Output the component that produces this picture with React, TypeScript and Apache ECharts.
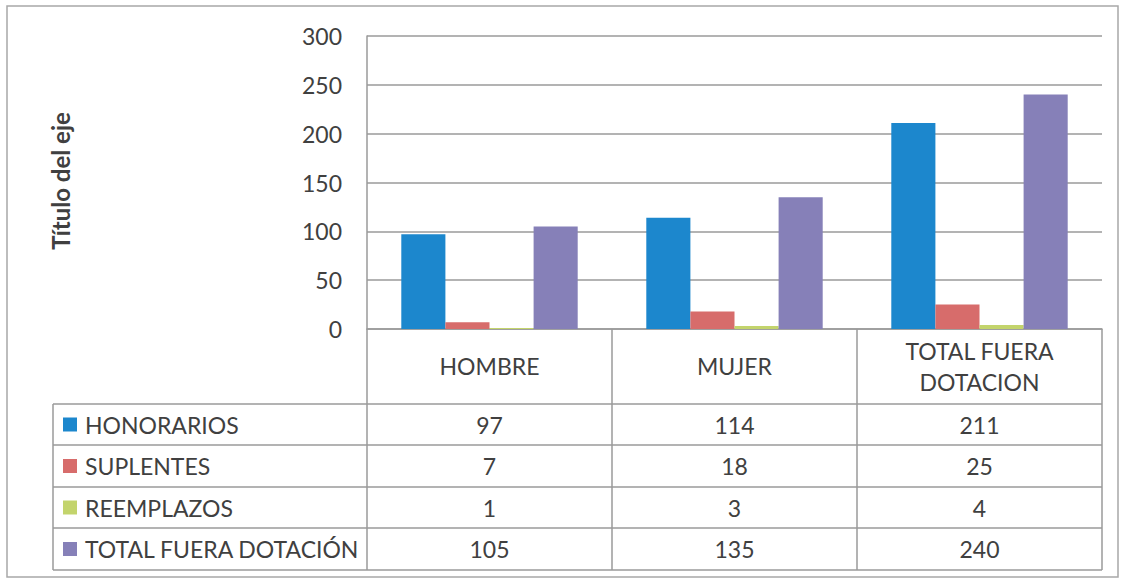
import React, { useEffect, useRef } from "react";
import * as echarts from "echarts";

const categories = ["HOMBRE", "MUJER", "TOTAL FUERA\nDOTACION"];
const seriesNames = ["HONORARIOS", "SUPLENTES", "REEMPLAZOS", "TOTAL FUERA DOTACIÓN"];
const honorarios = [97, 114, 211];
const suplentes = [7, 18, 25];
const reemplazos = [1, 3, 4];
const totalFuera = [105, 135, 240];
const seriesValues = [honorarios, suplentes, reemplazos, totalFuera];
const colors = ["#1c87cd", "#d76c6b", "#c3d46c", "#8680b8"];
const yTicks = { min: 0, max: 300, interval: 50 };
const axisTitle = "Título del eje";

export default function App() {
  const ref = useRef<HTMLDivElement>(null);
  useEffect(() => {
    document.body.style.margin = "0";
    const chart = echarts.init(ref.current!, null, { renderer: "svg" });
    const font = "Lato";
    const textColor = "#404040";
    const lineColor = "#9a9a9a";
    const fs = 23;

    const gridLeft = 367;
    const gridRight = 1102;
    const gridTop = 36;
    const gridBottom = 329;
    const tableLeft = 53;
    const rowTops = [404, 445, 487, 528, 570];
    const colW = (gridRight - gridLeft) / categories.length;

    const graphics: any[] = [];
    graphics.push({
      type: "rect",
      shape: { x: 7, y: 6, width: 1111, height: 571 },
      style: { fill: "none", stroke: "#a8a8a8", lineWidth: 1.5 },
      silent: true,
    });
    rowTops.forEach((y) => {
      graphics.push({
        type: "line",
        shape: { x1: tableLeft, y1: y, x2: gridRight, y2: y },
        style: { stroke: lineColor, lineWidth: 1.5 },
      });
    });
    graphics.push({
      type: "line",
      shape: { x1: tableLeft, y1: rowTops[0], x2: tableLeft, y2: rowTops[rowTops.length - 1] },
      style: { stroke: lineColor, lineWidth: 1.5 },
    });
    seriesNames.forEach((name, i) => {
      const cy = (rowTops[i] + rowTops[i + 1]) / 2;
      graphics.push({
        type: "rect",
        shape: { x: 63, y: cy - 7, width: 14, height: 14 },
        style: { fill: colors[i] },
      });
      graphics.push({
        type: "text",
        x: 85,
        y: cy,
        style: {
          text: name,
          font: `${fs}px ${font}`,
          fill: textColor,
          textVerticalAlign: "middle",
          textAlign: "left",
        },
      });
      seriesValues[i].forEach((v, j) => {
        graphics.push({
          type: "text",
          x: gridLeft + colW * (j + 0.5),
          y: cy,
          style: {
            text: String(v),
            font: `${fs}px ${font}`,
            fill: textColor,
            textVerticalAlign: "middle",
            textAlign: "center",
          },
        });
      });
    });
    graphics.push({
      type: "text",
      x: 60,
      y: 181,
      rotation: Math.PI / 2,
      style: {
        text: axisTitle,
        font: `bold 24px ${font}`,
        fill: textColor,
        textAlign: "center",
        textVerticalAlign: "middle",
      },
    });

    chart.setOption({
      animation: false,
      grid: {
        left: gridLeft,
        top: gridTop,
        width: gridRight - gridLeft,
        height: gridBottom - gridTop,
        show: false,
      },
      xAxis: {
        type: "category",
        data: categories,
        axisLine: { show: true, lineStyle: { color: lineColor, width: 1.5 } },
        axisTick: {
          show: true,
          length: rowTops[rowTops.length - 1] - gridBottom,
          lineStyle: { color: lineColor, width: 1.5 },
        },
        axisLabel: {
          margin: 37,
          verticalAlign: "middle",
          fontFamily: font,
          fontSize: fs,
          lineHeight: 31,
          color: textColor,
        },
      },
      yAxis: {
        type: "value",
        min: yTicks.min,
        max: yTicks.max,
        interval: yTicks.interval,
        axisLine: { show: true, lineStyle: { color: lineColor, width: 1.5 } },
        axisTick: { show: false },
        splitLine: { lineStyle: { color: lineColor, width: 1.5 } },
        axisLabel: {
          margin: 25,
          fontFamily: font,
          fontSize: fs,
          color: textColor,
        },
      },
      series: seriesNames.map((name, i) => ({
        name,
        type: "bar",
        data: seriesValues[i],
        itemStyle: { color: colors[i] },
        barGap: "0%",
        barCategoryGap: "28%",
      })),
      graphic: graphics,
    });
    return () => chart.dispose();
  }, []);
  return <div ref={ref} style={{ width: 1123, height: 580 }} />;
}
